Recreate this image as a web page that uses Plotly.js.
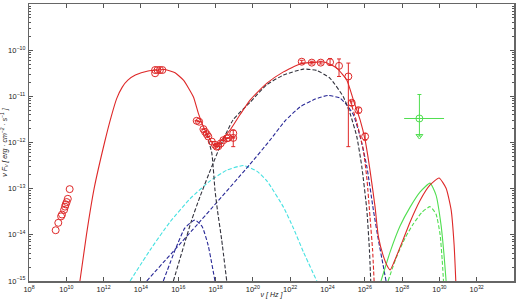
<!DOCTYPE html>
<html>
<head>
<meta charset="utf-8">
<script src="https://cdn.plot.ly/plotly-3.0.1.min.js"></script>
<style>
html, body { margin: 0; padding: 0; background: #fff; }
#sed { width: 520px; height: 299px; }
</style>
</head>
<body>
<div id="sed"></div>
<script>
// observed points: log10(nu) and log10(nu F_nu)
const radioNu = [9.43, 9.57, 9.72, 9.77, 9.88, 9.93, 9.97, 10.02, 10.08, 10.18];
const radioF = [-13.90, -13.74, -13.60, -13.56, -13.46, -13.39, -13.34, -13.29, -13.22, -13.01];

const optNu = [14.76, 14.76, 14.89, 15.02, 15.15];
const optF = [-10.43, -10.50, -10.43, -10.43, -10.43];

const uvNu = [16.99, 17.12, 17.35, 17.44, 17.53, 17.61, 17.80, 17.97, 18.06, 18.15, 18.28, 18.42, 18.60, 18.69, 18.95, 18.95];
const uvF = [-11.53, -11.55, -11.71, -11.77, -11.82, -11.87, -11.98, -12.05, -12.09, -12.08, -12.02, -11.95, -11.91, -11.90, -11.80, -11.90];
const uvHi = [null, null, null, null, null, null, null, null, null, null, null, null, null, null, -11.73, null];
const uvLo = [null, null, null, null, null, null, null, null, null, null, null, null, null, null, -12.09, null];

const gamNu = [22.62, 23.16, 23.64, 24.14, 24.62, 25.12, 25.30, 25.66, 26.02];
const gamF = [-10.25, -10.27, -10.27, -10.26, -10.34, -10.57, -11.14, -11.30, -11.87];
const gamHi = [-10.22, -10.24, -10.24, -10.18, -10.19, -10.28, -11.10, -11.25, -11.80];
const gamLo = [-10.28, -10.30, -10.30, -10.32, -10.57, -12.09, -11.20, -11.36, -11.95];

const vhNu = [28.93];
const vhF = [-11.48];
const vhHi = [-10.96];
const vhLo = [-11.86];
const vhNuLo = [28.11];
const vhNuHi = [30.25];

// model curves
const totNu = [10.73, 11.08, 11.49, 12.05, 12.40, 12.70, 13.00, 13.30, 13.70, 14.38, 15.29, 15.83, 16.28, 16.81, 17.08, 17.35, 17.61, 17.97, 18.24, 18.78, 19.31, 19.85, 20.74, 21.64, 22.53, 23.43, 23.87, 24.50, 25.04, 25.39, 25.75, 26.02, 26.28, 26.55, 26.73, 26.98, 27.20, 27.36, 27.57, 28.05, 28.43, 28.97, 29.50, 29.98, 30.36, 30.63, 30.79, 30.88];
const totF = [-15.0, -14.0, -13.0, -12.0, -11.45, -11.05, -10.80, -10.65, -10.54, -10.45, -10.42, -10.49, -10.65, -11.01, -11.37, -11.66, -11.87, -12.08, -11.98, -11.73, -11.40, -11.08, -10.72, -10.47, -10.30, -10.26, -10.26, -10.39, -10.65, -11.08, -11.51, -11.95, -12.60, -13.39, -14.04, -14.44, -14.67, -14.76, -14.59, -14.11, -13.72, -13.25, -12.92, -12.77, -12.99, -13.46, -14.22, -15.0];

const synNu = [17.53, 17.80, 17.97, 18.10, 18.33, 18.60];
const synF = [-11.82, -12.23, -13.03, -13.46, -14.11, -15.0];

const sscNu = [15.74, 16.72, 17.17, 17.80, 18.24, 18.94, 19.85, 20.74, 21.64, 22.71, 23.43, 24.14, 24.85, 25.21, 25.57, 25.84, 26.11, 26.25, 26.32];
const sscF = [-15.0, -13.68, -13.17, -12.52, -12.09, -11.51, -11.13, -10.75, -10.54, -10.41, -10.44, -10.61, -11.01, -11.37, -11.87, -12.52, -13.46, -14.33, -15.0];

const ecNu = [14.31, 17.17, 19.85, 20.92, 21.73, 22.53, 23.34, 24.03, 24.68, 25.04, 25.39, 25.75, 26.11, 26.46, 26.73, 26.98, 27.14];
const ecF = [-15.0, -13.71, -12.47, -11.95, -11.53, -11.23, -11.06, -10.98, -11.04, -11.19, -11.40, -11.87, -12.52, -13.46, -14.11, -14.65, -15.0];

const diskNu = [15.20, 15.83, 16.36, 16.90, 17.28, 17.60, 17.97];
const diskF = [-15.0, -14.33, -13.85, -13.68, -13.82, -14.22, -15.0];

const cyanNu = [13.42, 14.49, 15.56, 16.63, 17.71, 18.60, 19.49, 20.21, 20.75, 21.64, 22.17, 22.71, 23.43];
const cyanF = [-15.0, -14.33, -13.72, -13.22, -12.83, -12.60, -12.50, -12.62, -12.83, -13.40, -13.85, -14.37, -15.0];

const redDashNu = [25.21, 25.57, 25.92, 26.12, 26.28, 26.42, 26.50];
const redDashF = [-11.08, -11.56, -12.16, -12.81, -13.61, -14.33, -15.0];

const grnNu = [26.87, 27.36, 27.89, 28.43, 28.97, 29.50, 29.82, 30.09, 30.25, 30.36];
const grnF = [-15.0, -14.37, -13.81, -13.40, -13.07, -12.88, -13.14, -13.79, -14.44, -15.0];

const grnDashNu = [27.25, 27.68, 28.16, 28.59, 29.07, 29.50, 29.82, 30.04, 30.15, 30.22];
const grnDashF = [-15.0, -14.50, -14.07, -13.77, -13.51, -13.39, -13.55, -14.00, -14.54, -15.0];

const RED = 'rgb(222,40,40)';
const GREEN = 'rgb(80,222,80)';
const pw = v => (v === null ? null : 10 ** v);
const lin = a => a.map(pw);

function curve(nu, f, color, dash) {
	return {x: lin(nu), y: lin(f), type: 'scatter', mode: 'lines', hoverinfo: 'skip',
		line: {color: color, width: 1.1, dash: dash, shape: 'spline', smoothing: 0.5}};
}

function points(nu, f, hi, lo, color) {
	const t = {x: lin(nu), y: lin(f), type: 'scatter', mode: 'markers',
		marker: {symbol: 'circle-open', size: 7, color: color, line: {width: 1, color: color}}};
	if (hi) {
		t.error_y = {type: 'data', symmetric: false, color: color, thickness: 1, width: 2,
			array: f.map((v, i) => (hi[i] === null ? 0 : pw(hi[i]) - pw(v))),
			arrayminus: f.map((v, i) => (lo[i] === null ? 0 : pw(v) - pw(lo[i])))};
	}
	return t;
}

const vhe = points(vhNu, vhF, vhHi, vhLo, GREEN);
vhe.error_x = {type: 'data', symmetric: false, color: GREEN, thickness: 1, width: 0,
	array: [pw(vhNuHi[0]) - pw(vhNu[0])], arrayminus: [pw(vhNu[0]) - pw(vhNuLo[0])]};

const traces = [
	curve(cyanNu, cyanF, 'rgb(70,225,225)', '4px,2px'),
	curve(diskNu, diskF, 'rgb(40,40,150)', '4px,2px'),
	curve(ecNu, ecF, 'rgb(40,40,150)', '4px,2px'),
	curve(synNu, synF, 'rgb(50,50,60)', '4px,2px'),
	curve(sscNu, sscF, 'rgb(50,50,60)', '4px,2px'),
	curve(redDashNu, redDashF, RED, '4px,2px'),
	curve(grnDashNu, grnDashF, GREEN, '4px,2px'),
	curve(grnNu, grnF, GREEN, 'solid'),
	curve(totNu, totF, RED, 'solid'),
	points(radioNu, radioF, null, null, RED),
	points(optNu, optF, null, null, RED),
	points(uvNu, uvF, uvHi, uvLo, RED),
	points(gamNu, gamF, gamHi, gamLo, RED),
	vhe,
	{x: lin(vhNu), y: lin(vhLo), type: 'scatter', mode: 'markers',
		marker: {symbol: 'triangle-down-open', size: 6, color: GREEN, line: {width: 1, color: GREEN}}},
];

const axisBase = {
	type: 'log', showgrid: false, zeroline: false, showline: true, mirror: 'ticks',
	linecolor: '#666', linewidth: 1.5, ticks: 'inside', tickcolor: '#555', ticklen: 4,
	exponentformat: 'power', tickfont: {family: 'Liberation Sans, Arial', size: 6, color: '#222'},
};

const layout = {
	width: 520, height: 299, showlegend: false,
	paper_bgcolor: '#fff', plot_bgcolor: '#fff',
	margin: {l: 29, r: 6, t: 4, b: 18},
	xaxis: Object.assign({}, axisBase, {
		range: [8, 34], dtick: 2, ticklabelstandoff: 1,
		title: {text: '<i>ν [ Hz ]</i>', font: {family: 'Liberation Sans, Arial', size: 7, color: '#222'}, standoff: 0},
	}),
	yaxis: Object.assign({}, axisBase, {
		range: [-15, -9], dtick: 1, ticklabelstandoff: 1,
		minor: {ticks: 'inside', ticklen: 2, tickcolor: '#555', showgrid: false},
		title: {text: '<i>ν F<sub>ν</sub> [ erg · cm<sup>−2</sup> · s<sup>−1</sup> ]</i>',
			font: {family: 'Liberation Sans, Arial', size: 7, color: '#222'}, standoff: 2},
	}),
};

Plotly.newPlot('sed', traces, layout, {displayModeBar: false, staticPlot: true});
</script>
</body>
</html>
